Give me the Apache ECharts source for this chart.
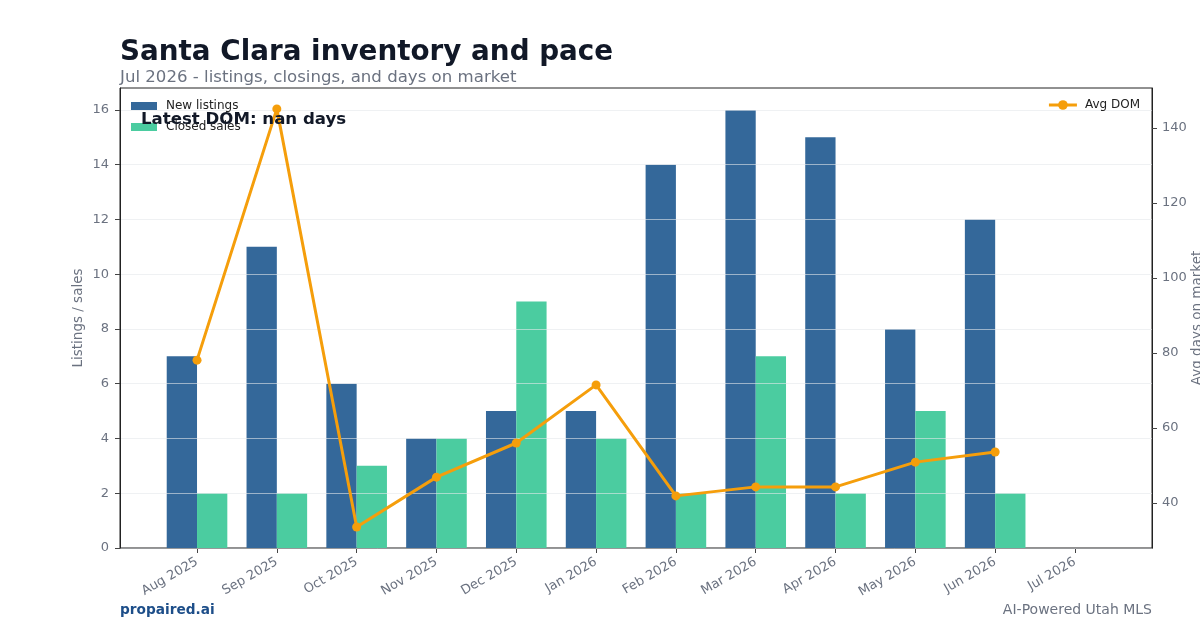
<!DOCTYPE html>
<html>
<head>
<meta charset="utf-8">
<script src="https://cdn.jsdelivr.net/npm/echarts@6/dist/echarts.min.js"></script>
<style>
  html, body { margin: 0; padding: 0; background: #fff; }
  #chart { width: 1200px; height: 630px; }
</style>
</head>
<body>
<div id="chart"></div>
<script>
// chart data
const months = ['Aug 2025', 'Sep 2025', 'Oct 2025', 'Nov 2025', 'Dec 2025', 'Jan 2026',
  'Feb 2026', 'Mar 2026', 'Apr 2026', 'May 2026', 'Jun 2026', 'Jul 2026']
const newListings = [7, 11, 6, 4, 5, 5, 14, 16, 15, 8, 12, 0]
const closedSales = [2, 2, 3, 4, 9, 4, 2, 7, 2, 5, 2, 0]
const avgDom = [78.1, 145.1, 33.6, 46.9, 56.0, 71.5, 41.9, 44.3, 44.3, 50.9, 53.6, null]
const leftTicks = [0, 2, 4, 6, 8, 10, 12, 14, 16]
const rightTicks = [40, 60, 80, 100, 120, 140]

const font = 'DejaVu Sans'
const gray = '#6b7280'
const idx = months.map((m, i) => i)
const pairs = arr => arr.map((v, i) => [i, v])

const chart = echarts.init(document.getElementById('chart'))
chart.setOption({
  animation: false,
  textStyle: { fontFamily: font },
  title: [
    {
      text: 'Santa Clara inventory and pace',
      left: 120, top: 39, padding: 0,
      textStyle: { fontSize: 27.8, fontWeight: 'bold', color: '#111827', fontFamily: font }
    },
    {
      text: 'Jul 2026 - listings, closings, and days on market',
      left: 120, top: 69, padding: 0,
      textStyle: { fontSize: 16.6, fontWeight: 'normal', color: gray, fontFamily: font }
    },
    {
      text: 'Latest DOM: nan days',
      left: 141, top: 111, padding: 0,
      z: 10,
      textStyle: { fontSize: 16.6, fontWeight: 'bold', color: '#111827', fontFamily: font }
    },
    {
      text: 'propaired.ai',
      left: 120, top: 603, padding: 0,
      textStyle: { fontSize: 13.7, fontWeight: 'bold', color: '#1d4e89', fontFamily: font }
    },
    {
      text: 'AI-Powered Utah MLS',
      right: 48, top: 603, padding: 0,
      textStyle: { fontSize: 14, fontWeight: 'normal', color: gray, fontFamily: font }
    }
  ],
  legend: [
    {
      data: ['New listings', 'Closed sales'],
      orient: 'vertical',
      left: 126, top: 95,
      itemWidth: 26, itemHeight: 8, itemGap: 9,
      icon: 'rect',
      textStyle: { fontSize: 12, color: '#222', fontFamily: font, padding: [0, 0, 0, 4] }
    },
    {
      data: ['Avg DOM'],
      right: 55, top: 94,
      itemWidth: 28, itemHeight: 12,
      lineStyle: { width: 3 },
      textStyle: { fontSize: 12, color: '#222', fontFamily: font, padding: [0, 0, 0, 3] }
    }
  ],
  grid: {
    left: 120, right: 48, top: 88, bottom: 82,
    outerBoundsMode: 'none',
    show: true, borderColor: '#222', borderWidth: 1
  },
  xAxis: {
    type: 'value',
    min: -0.965, max: 11.965,
    axisLine: { show: true, onZero: false, lineStyle: { color: '#222' } },
    axisTick: { show: true, customValues: idx, length: 5, lineStyle: { color: '#444' } },
    axisLabel: {
      customValues: idx,
      formatter: v => months[Math.round(v)],
      rotate: 30, fontSize: 13, color: gray, margin: 13
    },
    splitLine: { show: false }
  },
  yAxis: [
    {
      type: 'value',
      min: 0, max: 16.8, interval: 2,
      name: 'Listings / sales',
      nameLocation: 'middle', nameGap: 35, nameMoveOverlap: false,
      nameTextStyle: { fontSize: 13.5, color: gray },
      z: 3,
      axisLine: { show: true, onZero: false, lineStyle: { color: '#222' } },
      axisTick: { show: true, customValues: leftTicks, length: 5, lineStyle: { color: '#444' } },
      axisLabel: { customValues: leftTicks, fontSize: 13, color: gray, margin: 11 },
      splitLine: { show: true, lineStyle: { color: 'rgba(229,231,235,0.6)', width: 1 } }
    },
    {
      type: 'value',
      position: 'right',
      min: 28, max: 150.67,
      name: 'Avg days on market',
      nameLocation: 'middle', nameGap: 38, nameMoveOverlap: false,
      nameTextStyle: { fontSize: 13.5, color: gray },
      axisLine: { show: true, onZero: false, lineStyle: { color: '#222' } },
      axisTick: { show: true, customValues: rightTicks, length: 5, lineStyle: { color: '#444' } },
      axisLabel: { customValues: rightTicks, fontSize: 13, color: gray, margin: 10 },
      splitLine: { show: false }
    }
  ],
  series: [
    {
      name: 'New listings',
      type: 'bar',
      data: pairs(newListings),
      barWidth: 30.3,
      barGap: '0%',
      itemStyle: { color: '#34689a' }
    },
    {
      name: 'Closed sales',
      type: 'bar',
      data: pairs(closedSales),
      barWidth: 30.3,
      barGap: '0%',
      itemStyle: { color: '#4bcca0' }
    },
    {
      name: 'Avg DOM',
      type: 'line',
      yAxisIndex: 1,
      z: 5,
      data: pairs(avgDom),
      connectNulls: false,
      symbol: 'circle',
      symbolSize: 9,
      lineStyle: { color: '#f59e0b', width: 3 },
      itemStyle: { color: '#f59e0b' }
    }
  ]
})
</script>
</body>
</html>
